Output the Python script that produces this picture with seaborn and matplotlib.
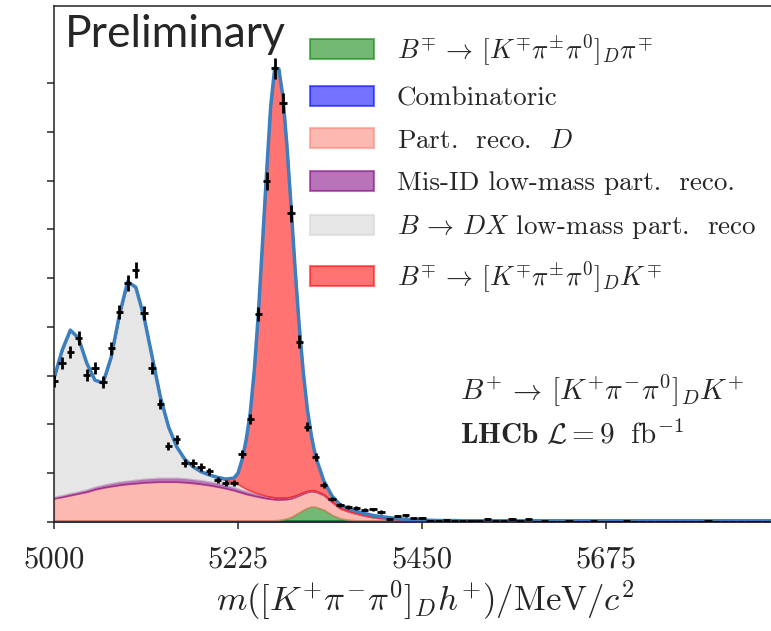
"""
Invariant-mass fit of B+ -> [K+ pi- pi0]_D K+ candidates,
stacked fit components with data points on top.
"""

import numpy as np
import matplotlib
matplotlib.use("Agg")
import matplotlib.pyplot as plt
from matplotlib.patches import Patch
import seaborn as sns

# ---- data points (candidates per 10 MeV bin) ----
DATA_MASS = list(range(5000, 5871, 10))
DATA_COUNTS = [
    578, 652, 697, 754, 603, 631, 574, 713, 861, 980,
    1033, 857, 631, 484, 312, 340, 242, 242, 226, 209,
    172, 160, 160, 279, 422, 853, 1399, 1860, 1719, 1266,
    739, 391, 265, 152, 94, 70, 63, 57, 51, 52,
    41, 12, 25, 27, 16, 18,
    6, 5, 7, 4, 5, 3, 4, 12, 4, 5, 12, 4, 11, 2, 3, 2, 1, 3, 2, 2,
    3, 1, 2, 2, 3, 1, 2, 1, 2, 1, 2, 2, 1, 2, 3, 1, 2, 2, 1, 2, 1, 2,
]

# ---- fit components ----
FIT_MASS = (list(range(5000, 5221, 10)) + list(range(5225, 5321, 5))
            + list(range(5330, 5881, 10)))

COMBINATORIC = (
    [6] * 23
    + [6] * 20
    + [6] * 13 + [5] * 43
)
B_DPI = (
    [0] * 23
    + [0, 0, 0, 0, 0, 0, 0, 0, 1, 1, 2, 5, 9, 15, 24, 34, 44, 52, 57, 56]
    + [44, 23, 9, 3, 1] + [0] * 51
)
PART_RECO_D = (
    [91, 97, 104, 111, 118, 128, 135, 141, 146, 150, 153, 156, 158, 159,
     159, 159, 157, 154, 150, 145, 139, 132, 124]
    + [119, 114, 109, 105, 101, 98, 94, 91, 88, 86, 84, 82, 79, 76, 73,
       70, 67, 65, 63, 62]
    + [60, 52, 40, 34, 27, 20, 14, 10, 7, 4, 2, 1, 0] + [0] * 43
)
MISID_LOW = (
    [6, 7, 8, 8, 9, 10, 11, 12, 13, 13, 14, 15, 15, 16, 16, 16, 16, 15,
     15, 14, 14, 13, 12]
    + [12, 11, 11, 10, 10, 9, 9, 8, 8, 7, 7, 7, 6, 6, 5, 5, 5, 4, 4, 4]
    + [3, 3, 2, 2, 1, 1] + [0] * 50
)
B_DX_LOW = (
    [487, 595, 669, 629, 519, 438, 418, 518, 684, 816, 790, 665, 499, 333,
     210, 128, 78, 52, 35, 28, 24, 22, 20]
    + [18, 14, 10, 7, 5, 3, 2, 1, 0] + [0] * 11
    + [0] * 56
)
B_DK = (
    [0] * 20 + [0, 3, 18]
    + [45, 110, 200, 319, 501, 741, 1032, 1325, 1600, 1762, 1759, 1644,
       1439, 1190, 925, 686, 489, 332, 220, 140]
    + [56, 23, 13, 11, 9, 8, 7, 6, 5, 4, 3, 3, 2, 2, 1, 1, 1] + [0] * 39
)

LEGEND_LABELS = [
    r"$B^{\mp} \,\to\, [K^{\mp}\pi^{\pm}\pi^{0}]_{D}\pi^{\mp}$",
    "Combinatoric",
    r"Part.  reco.  $D$",
    "Mis-ID low-mass part.  reco.",
    r"$B \,\to\, DX$ low-mass part.  reco",
    r"$B^{\mp} \,\to\, [K^{\mp}\pi^{\pm}\pi^{0}]_{D}K^{\mp}$",
]
LEGEND_COLORS = ["green", "blue", "salmon", "purple", "lightgrey", "red"]

# stacking order, bottom to top
STACK = [
    (COMBINATORIC, "blue"),
    (B_DPI, "green"),
    (PART_RECO_D, "salmon"),
    (MISID_LOW, "purple"),
    (B_DX_LOW, "lightgrey"),
    (B_DK, "red"),
]

sns.set_style("ticks")
plt.rcParams["font.family"] = "serif"
plt.rcParams["font.serif"] = ["cmr10", "DejaVu Serif"]
plt.rcParams["mathtext.fontset"] = "cm"
plt.rcParams["axes.unicode_minus"] = False
plt.rcParams["axes.formatter.use_mathtext"] = True

fig = plt.figure(figsize=(7.71, 6.31), dpi=100)
ax = fig.add_axes([54 / 771, 109 / 631, 717 / 771, 516 / 631])

x = np.array(FIT_MASS)
lower = np.zeros(len(x))
for values, col in STACK:
    upper = lower + np.array(values)
    ax.fill_between(x, lower, upper, color=col, alpha=0.55, lw=1.2)
    lower = upper

sns.lineplot(x=x, y=lower, color="#3b7fbf", lw=2.5, ax=ax)

counts = np.array(DATA_COUNTS)
ax.errorbar(DATA_MASS, counts, yerr=np.sqrt(counts), xerr=4.5, fmt="none",
            ecolor="black", elinewidth=2.0, capsize=0, zorder=5)

ax.set_xlim(5000, 5877)
ax.set_ylim(0, 2116)
ax.set_xticks([5000, 5225, 5450, 5675])
ax.set_xticklabels(["5000", "5225", "5450", "5675"])
ax.set_yticks(range(0, 1801, 200))
ax.set_yticklabels([])
ax.tick_params(axis="both", direction="out", length=5, width=1.1,
               labelsize=22, pad=12)
for side in ["left", "top", "bottom"]:
    ax.spines[side].set_linewidth(1.1)
    ax.spines[side].set_color("#222222")
ax.spines["right"].set_visible(False)

ax.set_xlabel(r"$m([K^{+}\pi^{-}\pi^{0}]_{D}h^{+})/\mathrm{MeV}/c^{2}$",
              fontsize=25)
ax.xaxis.set_label_coords(0.517, -0.108)
ax.set_ylabel("")

handles = [Patch(facecolor=c, edgecolor=c, alpha=0.55, lw=1.5)
           for c in LEGEND_COLORS]
ax.legend(handles, LEGEND_LABELS, loc="upper left",
          bbox_to_anchor=(0.357, 0.95), frameon=False, fontsize=19.5,
          handlelength=2.35, handleheight=0.75, handletextpad=0.85,
          labelspacing=0.67, borderpad=0, borderaxespad=0)

ax.text(0.566, 0.256, r"$B^{+} \,\to\, [K^{+}\pi^{-}\pi^{0}]_{D}K^{+}$",
        transform=ax.transAxes, fontsize=21, va="center", ha="left")
ax.text(0.566, 0.169, r"$\mathbf{LHCb}\ \mathcal{L} = 9\ \ \mathrm{fb}^{-1}$",
        transform=ax.transAxes, fontsize=21, va="center", ha="left")
ax.text(0.0153, 0.9205, "Preliminary", transform=ax.transAxes,
        family="Lato", fontsize=32, va="baseline", ha="left")

fig.savefig("out.png", dpi=100)
